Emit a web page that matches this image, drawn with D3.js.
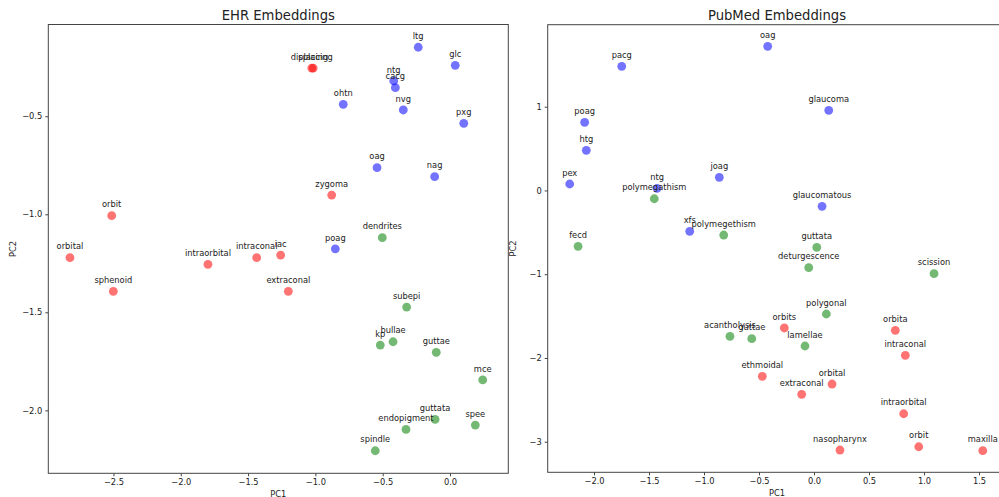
<!DOCTYPE html>
<html>
<head>
<meta charset="utf-8">
<script src="https://cdn.jsdelivr.net/npm/d3@7"></script>
<style>
  body { margin: 0; background: #fff; }
  svg { display: block; font-family: "DejaVu Sans", sans-serif; }
</style>
</head>
<body>
<div id="chart"></div>
<script>
// EHR embeddings (left panel)
const ehrWords = ["ltg", "glc", "displacing", "placing", "ntg", "cacg", "ohtn", "nvg", "pxg", "oag", "nag", "zygoma", "orbit", "dendrites", "poag", "orbital", "intraorbital", "intraconal", "iac", "sphenoid", "extraconal", "subepi", "kp", "bullae", "guttae", "mce", "guttata", "endopigment", "spee", "spindle"];
const ehrPC1 = [-0.236, 0.039, -1.027, -1.016, -0.418, -0.406, -0.793, -0.347, 0.102, -0.542, -0.114, -0.879, -2.513, -0.503, -0.852, -2.823, -1.798, -1.436, -1.258, -2.501, -1.201, -0.322, -0.518, -0.423, -0.102, 0.243, -0.111, -0.327, 0.188, -0.555];
const ehrPC2 = [-0.148, -0.240, -0.254, -0.254, -0.320, -0.354, -0.439, -0.468, -0.536, -0.762, -0.808, -0.902, -1.007, -1.119, -1.176, -1.221, -1.255, -1.221, -1.208, -1.393, -1.393, -1.473, -1.667, -1.650, -1.704, -1.845, -2.046, -2.097, -2.075, -2.206];
const ehrGroup = ["b", "b", "r", "r", "b", "b", "b", "b", "b", "b", "b", "r", "r", "g", "b", "r", "r", "r", "r", "r", "r", "g", "g", "g", "g", "g", "g", "g", "g", "g"];

// PubMed embeddings (right panel)
const pubWords = ["oag", "pacg", "glaucoma", "poag", "htg", "pex", "ntg", "joag", "polymegathism", "glaucomatous", "xfs", "polymegethism", "fecd", "guttata", "deturgescence", "scission", "polygonal", "orbits", "orbita", "acantholysis", "guttae", "lamellae", "intraconal", "ethmoidal", "orbital", "extraconal", "intraorbital", "nasopharynx", "orbit", "maxilla"];
const pubPC1 = [-0.421, -1.748, 0.134, -2.085, -2.070, -2.221, -1.427, -0.861, -1.452, 0.073, -1.130, -0.821, -2.145, 0.025, -0.048, 1.091, 0.112, -0.270, 0.739, -0.764, -0.566, -0.082, 0.830, -0.470, 0.164, -0.112, 0.815, 0.236, 0.952, 1.534];
const pubPC2 = [1.721, 1.482, 0.957, 0.814, 0.479, 0.077, 0.026, 0.157, -0.099, -0.189, -0.488, -0.532, -0.667, -0.679, -0.922, -0.994, -1.475, -1.642, -1.670, -1.741, -1.770, -1.857, -1.968, -2.219, -2.311, -2.434, -2.666, -3.099, -3.060, -3.107];
const pubGroup = ["b", "b", "b", "b", "b", "b", "b", "b", "g", "b", "b", "g", "g", "g", "g", "g", "g", "r", "r", "g", "g", "g", "r", "r", "r", "r", "r", "r", "r", "r"];

const ehrXTicks = [-2.5, -2.0, -1.5, -1.0, -0.5, 0.0];
const ehrYTicks = [-2.0, -1.5, -1.0, -0.5];
const pubXTicks = [-2.0, -1.5, -1.0, -0.5, 0.0, 0.5, 1.0, 1.5];
const pubYTicks = [-3, -2, -1, 0, 1];

const groupColor = { r: "red", g: "green", b: "blue" };

const width = 999, height = 497;
const svg = d3.select("#chart").append("svg")
    .attr("width", width)
    .attr("height", height);

function panel({ words, xs, ys, groups, xDomain, yDomain, xTicks, yTicks, xFmt, yFmt, left, right, top, bottom, title }) {
    const x = d3.scaleLinear().domain(xDomain).range([left, right]);
    const y = d3.scaleLinear().domain(yDomain).range([bottom, top]);
    const g = svg.append("g");

    // axes
    const xAxis = g.append("g")
        .attr("transform", `translate(0,${bottom})`)
        .call(d3.axisBottom(x).tickValues(xTicks).tickFormat(d3.format(xFmt)).tickSize(3).tickPadding(3));
    const yAxis = g.append("g")
        .attr("transform", `translate(${left},0)`)
        .call(d3.axisLeft(y).tickValues(yTicks).tickFormat(d3.format(yFmt)).tickSize(3).tickPadding(3));
    [xAxis, yAxis].forEach(a => {
        a.select(".domain").remove();
        a.selectAll("line").attr("stroke", "#444");
        a.selectAll("text").attr("fill", "#222").style("font-size", "8.3px").style("font-family", "DejaVu Sans");
    });

    // frame
    g.append("rect")
        .attr("x", left).attr("y", top)
        .attr("width", right - left).attr("height", bottom - top)
        .attr("fill", "none").attr("stroke", "#444").attr("stroke-width", 1);

    // points
    g.append("g").selectAll("circle")
        .data(words)
        .join("circle")
        .attr("cx", (_, i) => x(xs[i]))
        .attr("cy", (_, i) => y(ys[i]))
        .attr("r", 4.4)
        .attr("fill", (_, i) => groupColor[groups[i]])
        .attr("fill-opacity", 0.55);

    // labels
    g.append("g").selectAll("text")
        .data(words)
        .join("text")
        .attr("x", (_, i) => x(xs[i]))
        .attr("y", (_, i) => y(ys[i]) - 8.3)
        .attr("text-anchor", "middle")
        .attr("fill", "#222")
        .style("font-size", "8.3px")
        .text(d => d);

    g.append("text")
        .attr("x", (left + right) / 2)
        .attr("y", top - 4.5)
        .attr("text-anchor", "middle")
        .attr("fill", "#222")
        .style("font-size", "13.2px")
        .text(title);

    g.append("text")
        .attr("x", (left + right) / 2)
        .attr("y", bottom + 24)
        .attr("text-anchor", "middle")
        .attr("fill", "#222")
        .style("font-size", "8.3px")
        .text("PC1");

    g.append("text")
        .attr("transform", `translate(${left - 32},${(top + bottom) / 2}) rotate(-90)`)
        .attr("text-anchor", "middle")
        .attr("fill", "#222")
        .style("font-size", "8.3px")
        .text("PC2");
}

panel({
    words: ehrWords, xs: ehrPC1, ys: ehrPC2, groups: ehrGroup,
    xDomain: [-2.984, 0.433], yDomain: [-2.321, -0.032],
    xTicks: ehrXTicks, yTicks: ehrYTicks, xFmt: ".1f", yFmt: ".1f",
    left: 48.3, right: 508.3, top: 24.5, bottom: 473.3,
    title: "EHR Embeddings"
});

panel({
    words: pubWords, xs: pubPC1, ys: pubPC2, groups: pubGroup,
    xDomain: [-2.421, 1.748], yDomain: [-3.365, 1.979],
    xTicks: pubXTicks, yTicks: pubYTicks, xFmt: ".1f", yFmt: "d",
    left: 547.7, right: 1006.3, top: 24.7, bottom: 472.3,
    title: "PubMed Embeddings"
});
</script>
</body>
</html>
